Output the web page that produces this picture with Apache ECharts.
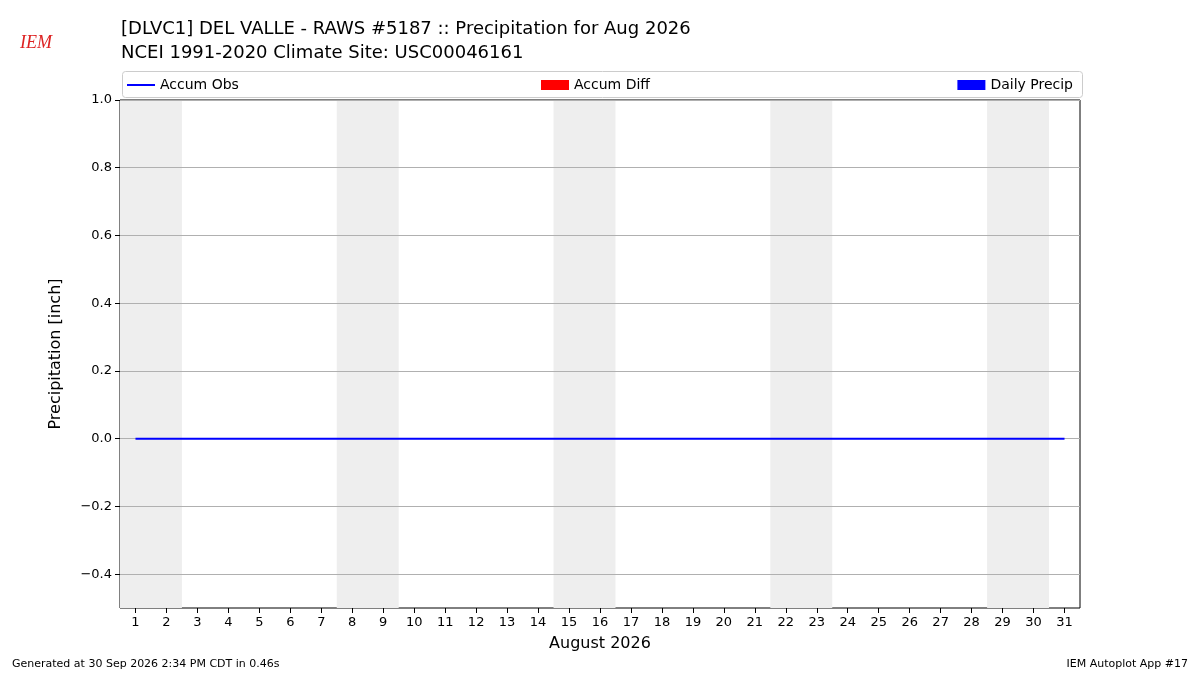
<!DOCTYPE html>
<html>
<head>
<meta charset="utf-8">
<script src="https://cdn.jsdelivr.net/npm/echarts@6/dist/echarts.min.js"></script>
<style>html,body{margin:0;padding:0;background:#fff}</style>
</head>
<body>
<div id="chart" style="width:1200px;height:675px;"></div>
<script>
var days = [];
for (var d = 1; d <= 31; d++) days.push(d);
var accumObs = [0,0,0,0,0,0,0,0,0,0,0,0,0,0,0,0,0,0,0,0,0,0,0,0,0,0,0,0,0,0,0];
var dailyPrecip = [0,0,0,0,0,0,0,0,0,0,0,0,0,0,0,0,0,0,0,0,0,0,0,0,0,0,0,0,0,0,0];
var accumDiff = [0,0,0,0,0,0,0,0,0,0,0,0,0,0,0,0,0,0,0,0,0,0,0,0,0,0,0,0,0,0,0];
var weekends = [[0.5, 2.5], [7.5, 9.5], [14.5, 16.5], [21.5, 23.5], [28.5, 30.5]];
var yTicks = [-0.4, -0.2, 0.0, 0.2, 0.4, 0.6, 0.8, 1.0];

function pairs(arr) { return arr.map(function (v, i) { return [days[i], v]; }); }
var font = 'DejaVu Sans';
var myChart = echarts.init(document.getElementById('chart'));
var legText = {fontSize: 14, color: '#000', fontFamily: font};

var option = {
    animation: false,
    textStyle: {fontFamily: font},
    title: {
        text: '[DLVC1] DEL VALLE - RAWS #5187 :: Precipitation for Aug 2026\nNCEI 1991-2020 Climate Site: USC00046161',
        left: 116, top: 12,
        textStyle: {fontSize: 18, fontWeight: 'normal', color: '#000', lineHeight: 24, fontFamily: font}
    },
    legend: [
        {data: [{name: 'Accum Obs', icon: 'path://M0,4 L28,4 L28,6 L0,6 Z'}], left: 122, top: 73, itemWidth: 28, itemHeight: 10, textStyle: legText},
        {data: [{name: 'Accum Diff', icon: 'rect'}], left: 536, top: 73, itemWidth: 28, itemHeight: 10, textStyle: legText},
        {data: [{name: 'Daily Precip', icon: 'rect'}], right: 122, top: 73, itemWidth: 28, itemHeight: 10, textStyle: legText}
    ],
    grid: {left: 120, right: 120, top: 100, bottom: 67, show: true, borderColor: '#000', borderWidth: 1},
    xAxis: {
        type: 'value', min: 0.5, max: 31.5,
        name: 'August 2026', nameLocation: 'middle', nameGap: 28,
        nameTextStyle: {fontSize: 16, color: '#000', fontFamily: font},
        axisLine: {show: false, onZero: false},
        axisTick: {customValues: days, length: 5, lineStyle: {color: '#000'}},
        axisLabel: {customValues: days, color: '#000', fontSize: 13, fontFamily: font},
        splitLine: {show: false}
    },
    yAxis: {
        type: 'value', min: -0.5, max: 1.0,
        name: 'Precipitation [inch]', nameLocation: 'middle', nameGap: 56,
        nameTextStyle: {fontSize: 16, color: '#000', fontFamily: font},
        axisLine: {show: false, onZero: false},
        axisTick: {customValues: yTicks, length: 5, lineStyle: {color: '#000'}},
        axisLabel: {customValues: yTicks, color: '#000', fontSize: 13, fontFamily: font,
            formatter: function (v) { return (v < 0 ? '\u2212' + (-v).toFixed(1) : v.toFixed(1)); }},
        splitLine: {show: false}
    },
    graphic: [
        {type: 'rect', left: 120, top: 69, shape: {width: 960, height: 26, r: 3},
            style: {fill: 'none', stroke: '#ccc', lineWidth: 1}},
        {type: 'text', left: 20, top: 34, style: {text: 'IEM', fill: '#d22', font: 'italic 18px serif'}},
        {type: 'text', left: 12, top: 659, style: {text: 'Generated at 30 Sep 2026 2:34 PM CDT in 0.46s', fill: '#000', font: '11px DejaVu Sans'}},
        {type: 'text', right: 12, top: 659, style: {text: 'IEM Autoplot App #17', fill: '#000', font: '11px DejaVu Sans'}}
    ],
    series: [
        {
            name: 'Daily Precip', type: 'bar', data: pairs(dailyPrecip), barWidth: 20,
            itemStyle: {color: '#0000ff'},
            markArea: {silent: true, itemStyle: {color: '#eeeeee'},
                data: weekends.map(function (w) { return [{xAxis: w[0]}, {xAxis: w[1]}]; })},
            markLine: {silent: true, symbol: 'none', label: {show: false},
                lineStyle: {color: '#b0b0b0', type: 'solid', width: 1},
                data: yTicks.map(function (v) { return {yAxis: v}; })}
        },
        {name: 'Accum Diff', type: 'bar', data: pairs(accumDiff), barWidth: 20, itemStyle: {color: '#ff0000'}},
        {name: 'Accum Obs', type: 'line', data: pairs(accumObs), symbol: 'none',
            lineStyle: {color: '#0000ff', width: 2}, itemStyle: {color: '#0000ff'}, z: 5}
    ]
};
myChart.setOption(option);
</script>
</body>
</html>
